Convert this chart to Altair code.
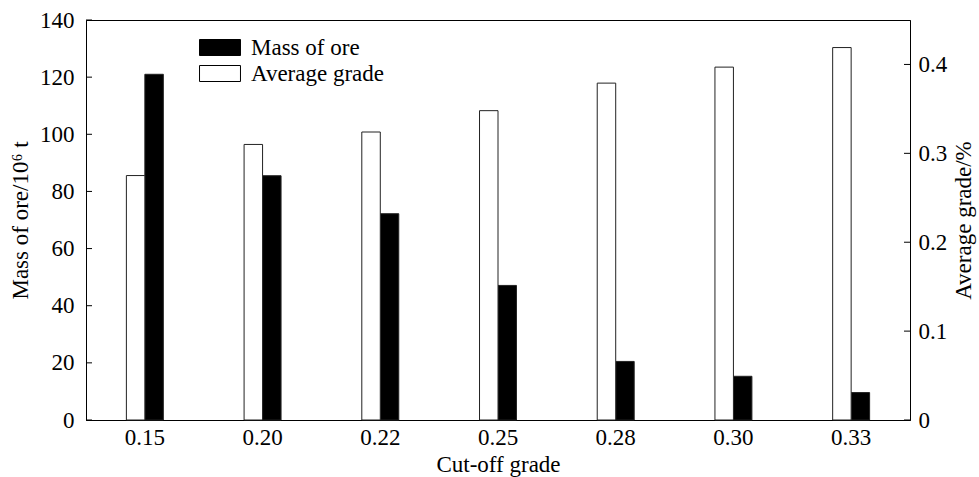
import altair as alt
import pandas as pd

# ---- data ----
cutoff = ["0.15", "0.20", "0.22", "0.25", "0.28", "0.30", "0.33"]
mass_of_ore = [121.0, 85.5, 72.2, 47.1, 20.5, 15.3, 9.6]
average_grade = [0.275, 0.310, 0.324, 0.348, 0.379, 0.397, 0.419]
mass_ticks = [0, 20, 40, 60, 80, 100, 120, 140]
grade_ticks = [0, 0.1, 0.2, 0.3, 0.4]
series = ["Mass of ore", "Average grade"]

FONT = "Liberation Serif"
FS = 23
W, H = 824, 400

mass_df = pd.DataFrame({"cutoff": cutoff, "series": series[0], "value": mass_of_ore})
grade_df = pd.DataFrame({"cutoff": cutoff, "series": series[1], "value": average_grade})
mtick_df = pd.DataFrame({"v": mass_ticks})
gtick_df = pd.DataFrame({"v": grade_ticks})

x = alt.X(
    "cutoff:N", sort=cutoff,
    scale=alt.Scale(paddingInner=0.686, paddingOuter=0.343),
    axis=alt.Axis(title="Cut-off grade", labelAngle=0, ticks=False,
                  labelPadding=6, titlePadding=4),
)
xoff = alt.XOffset("series:N", scale=alt.Scale(domain=["Average grade", "Mass of ore"]))
fill = alt.Fill(
    "series:N",
    scale=alt.Scale(domain=series, range=["black", "white"]),
    legend=alt.Legend(
        title=None, orient="none", legendX=122.5, legendY=16, padding=0,
        symbolType="M-2.56,-1H2.56V1H-2.56Z", symbolSize=256,
        symbolStrokeColor="black", symbolStrokeWidth=1,
        labelFont=FONT, labelFontSize=FS, labelColor="black",
        labelOffset=19.5, rowPadding=2,
    ),
)

mass_scale = alt.Scale(domain=[0, 140], nice=False)
grade_scale = alt.Scale(domain=[0, 0.45], nice=False)

mass_bars = alt.Chart(mass_df).mark_bar(stroke="#222", strokeWidth=1).encode(
    x=x, xOffset=xoff, fill=fill,
    y=alt.Y("value:Q", scale=mass_scale,
            axis=alt.Axis(orient="left", values=mass_ticks, title="Mass of ore/10⁶ t",
                          ticks=False, grid=False, labelPadding=12, titlePadding=7)),
)
grade_bars = alt.Chart(grade_df).mark_bar(stroke="#222", strokeWidth=1).encode(
    x=x, xOffset=xoff, fill=fill,
    y=alt.Y("value:Q", scale=grade_scale,
            axis=alt.Axis(orient="right", values=grade_ticks, title="Average grade/%",
                          ticks=False, grid=False, labelPadding=8, titlePadding=29,
                          titleAngle=270,
                          labelExpr="datum.value == 0 ? '0' : format(datum.value, '.1f')")),
)
left_ticks = alt.Chart(mtick_df).mark_rule(color="black", strokeWidth=1).encode(
    y=alt.Y("v:Q", scale=mass_scale, axis=None),
    x=alt.value(0), x2=alt.value(6),
)
right_ticks = alt.Chart(gtick_df).mark_rule(color="black", strokeWidth=1).encode(
    y=alt.Y("v:Q", scale=grade_scale, axis=None),
    x=alt.value(W - 6), x2=alt.value(W),
)

chart = (
    alt.layer(mass_bars, grade_bars, left_ticks, right_ticks)
    .resolve_scale(y="independent")
    .properties(width=W, height=H,
                padding={"left": 86, "top": 20, "right": 69, "bottom": 57},
                autosize=alt.AutoSizeParams(type="none"), background="white")
    .configure_view(stroke="black", strokeWidth=1)
    .configure_axis(labelFont=FONT, labelFontSize=FS, labelColor="black",
                    titleFont=FONT, titleFontSize=FS, titleFontWeight="normal",
                    titleColor="black", domainColor="black", domainWidth=1)
)

chart.save("out.html", embed_options={"renderer": "svg", "actions": False})
